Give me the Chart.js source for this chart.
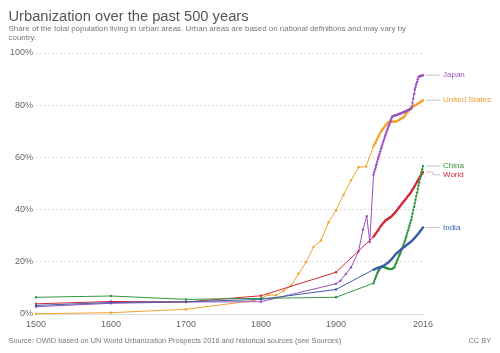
<!DOCTYPE html>
<html><head><meta charset="utf-8">
<script src="https://cdn.jsdelivr.net/npm/chart.js@4/dist/chart.umd.min.js"></script>
<style>html,body{margin:0;padding:0;background:#fff}</style>
</head><body>
<canvas id="c" width="500" height="353"></canvas>
<script>
const xTicks = [1500, 1600, 1700, 1800, 1900, 2016];
const yTicks = [0, 20, 40, 60, 80, 100];

const histYears = [1500, 1600, 1700, 1800, 1900];
const modernYears = [
  1950,1951,1952,1953,1954,1955,1956,1957,1958,1959,
  1960,1961,1962,1963,1964,1965,1966,1967,1968,1969,
  1970,1971,1972,1973,1974,1975,1976,1977,1978,1979,
  1980,1981,1982,1983,1984,1985,1986,1987,1988,1989,
  1990,1991,1992,1993,1994,1995,1996,1997,1998,1999,
  2000,2001,2002,2003,2004,2005,2006,2007,2008,2009,
  2010,2011,2012,2013,2014,2015,2016];

const japanHistYears = [1500,1600,1700,1800,1900,1906,1913,1920,1930,1936,1941,1945];
const japanHist = [2.8,4.1,4.6,4.7,11.6,12.8,15.3,17.8,24.0,32.3,37.5,27.6];
const japanModern = [
  53.4,54.4,55.4,56.4,57.4,58.4,59.4,60.4,61.3,62.3,
  63.3,64.2,65.1,66.0,66.9,67.9,68.7,69.5,70.3,71.1,
  71.9,72.6,73.4,74.2,74.9,75.7,75.8,75.9,76.0,76.1,
  76.2,76.3,76.4,76.5,76.6,76.7,76.8,76.9,77.0,77.2,
  77.3,77.4,77.6,77.7,77.9,78.0,78.1,78.2,78.4,78.5,
  78.6,79.3,80.9,82.6,84.3,86.0,87.0,88.0,88.9,89.9,
  90.8,91.0,91.1,91.2,91.4,91.4,91.5];

const usHistYears = [1500,1600,1700,1790,1800,1810,1820,1830,1840,1850,1860,1870,1880,1890,1900,1910,1920,1930,1940];
const usHist = [0.1,0.5,1.8,5.1,6.1,7.3,7.2,8.8,10.8,15.4,19.8,25.7,28.2,35.1,39.7,45.7,51.2,56.2,56.5];
const usModern = [
  64.2,64.8,65.4,65.9,66.5,67.1,67.7,68.3,68.8,69.4,
  70.0,70.4,70.8,71.1,71.5,71.9,72.2,72.6,72.9,73.3,
  73.6,73.6,73.6,73.7,73.7,73.7,73.7,73.7,73.7,73.7,
  73.7,73.9,74.0,74.2,74.3,74.5,74.7,74.8,75.0,75.2,
  75.3,75.7,76.1,76.5,76.9,77.3,77.6,78.0,78.4,78.7,
  79.1,79.2,79.4,79.6,79.8,80.0,80.1,80.3,80.4,80.6,
  80.8,81.0,81.1,81.3,81.5,81.7,81.9];

const chinaHist = [6.4,6.9,5.6,6.0,6.4];
const chinaModern = [
  11.8,12.6,13.4,14.2,14.9,15.6,16.2,16.8,17.2,17.6,
  18.0,18.2,18.2,18.1,18.0,17.9,17.7,17.6,17.5,17.4,
  17.4,17.3,17.2,17.2,17.2,17.3,17.5,17.7,18.0,18.8,
  19.4,20.1,20.8,21.5,22.2,22.9,23.6,24.3,25.0,25.7,
  26.4,27.3,28.2,29.1,30.0,31.0,32.0,33.0,33.9,34.9,
  35.9,37.2,38.5,39.8,41.1,42.5,43.8,45.2,46.5,47.9,
  49.2,50.5,51.8,53.0,54.3,55.5,56.7];

const worldHist = [3.9,4.8,4.6,7.0,16.0];
const worldModern = [
  29.6,30.0,30.4,30.8,31.2,31.6,32.0,32.5,33.0,33.4,
  33.8,34.1,34.5,34.9,35.2,35.6,35.8,36.0,36.2,36.4,
  36.6,36.8,37.0,37.2,37.5,37.7,38.0,38.3,38.6,39.0,
  39.3,39.7,40.1,40.4,40.8,41.2,41.5,41.9,42.3,42.6,
  43.0,43.4,43.7,44.1,44.4,44.8,45.2,45.6,45.9,46.3,
  46.7,47.2,47.6,48.1,48.6,49.1,49.6,50.1,50.6,51.2,
  51.7,52.1,52.6,53.0,53.5,53.9,54.4];

const indiaHist = [3.3,4.4,4.7,5.6,9.4];
const indiaModern = [
  17.0,17.1,17.2,17.4,17.5,17.6,17.7,17.7,17.8,17.9,
  17.9,18.1,18.3,18.4,18.6,18.8,19.0,19.2,19.4,19.6,
  19.8,20.1,20.4,20.7,21.0,21.3,21.7,22.0,22.4,22.7,
  23.1,23.3,23.6,23.8,24.1,24.3,24.5,24.8,25.0,25.3,
  25.5,25.7,25.9,26.2,26.4,26.6,26.8,27.0,27.3,27.5,
  27.7,28.0,28.3,28.6,28.9,29.2,29.5,29.9,30.2,30.6,
  30.9,31.3,31.6,32.0,32.4,32.8,33.2];

function pts(yh, vh, ym, vm) {
  const out = [];
  yh.forEach((y, i) => out.push({x: y, y: vh[i]}));
  ym.forEach((y, i) => out.push({x: y, y: vm[i]}));
  return out;
}

const FONT = '"Liberation Sans", Arial, sans-serif';
const series = [
  {label: 'India', color: '#3b5ea8', data: pts(histYears, indiaHist, modernYears, indiaModern)},
  {label: 'China', color: '#33963f', data: pts(histYears, chinaHist, modernYears, chinaModern)},
  {label: 'World', color: '#cf2a37', data: pts(histYears, worldHist, modernYears, worldModern)},
  {label: 'Japan', color: '#9b50c0', data: pts(japanHistYears, japanHist, modernYears, japanModern)},
  {label: 'United States', color: '#f2a230', data: pts(usHistYears, usHist, modernYears, usModern)}
];

const labelPlugin = {
  id: 'endLabels',
  afterDatasetsDraw(chart) {
    const ctx = chart.ctx;
    const items = chart.data.datasets.map((ds, i) => {
      const meta = chart.getDatasetMeta(i);
      const p = meta.data[meta.data.length - 1];
      return {name: ds.label, color: ds.borderColor, x: p.x, y: p.y, ly: p.y};
    }).sort((a, b) => a.y - b.y);
    for (let i = 1; i < items.length; i++) {
      if (items[i].ly - items[i - 1].ly < 8.7) items[i].ly = items[i - 1].ly + 8.7;
    }
    ctx.save();
    ctx.font = '8px ' + FONT;
    ctx.textBaseline = 'middle';
    items.forEach(it => {
      ctx.strokeStyle = '#c4c4c4';
      ctx.lineWidth = 1;
      ctx.beginPath();
      ctx.moveTo(it.x + 3, it.y);
      ctx.lineTo(it.x + 10, it.y);
      ctx.lineTo(it.x + 10, it.ly);
      ctx.lineTo(it.x + 17, it.ly);
      ctx.stroke();
      ctx.fillStyle = it.color;
      ctx.fillText(it.name, it.x + 20, it.ly);
    });
    ctx.restore();
  }
};

const textPlugin = {
  id: 'texts',
  afterDraw(chart) {
    const ctx = chart.ctx;
    ctx.save();
    ctx.textBaseline = 'alphabetic';
    ctx.fillStyle = '#555';
    ctx.font = '14.7px ' + FONT;
    ctx.fillText('Urbanization over the past 500 years', 8.5, 20.5);
    ctx.fillStyle = '#777';
    ctx.font = '7.95px ' + FONT;
    ctx.fillText('Share of the total population living in urban areas. Urban areas are based on national definitions and may vary by', 8.5, 31.3);
    ctx.fillText('country.', 8.5, 40.3);
    ctx.font = '7.4px ' + FONT;
    ctx.fillText('Source: OWID based on UN World Urbanization Prospects 2018 and historical sources (see Sources)', 8.5, 343);
    ctx.textAlign = 'right';
    ctx.fillText('CC BY', 491, 343);
    ctx.restore();
  }
};

new Chart(document.getElementById('c'), {
  type: 'line',
  data: {
    datasets: series.map(s => ({
      label: s.label,
      data: s.data,
      borderColor: s.color,
      backgroundColor: s.color,
      borderWidth: 1,
      pointRadius: 1.2,
      pointBorderWidth: 0,
      pointHoverRadius: 0,
      tension: 0,
      clip: false,
      fill: false
    }))
  },
  options: {
    responsive: false,
    animation: false,
    devicePixelRatio: 1,
    layout: {padding: {top: 53, bottom: 20, left: 0, right: 77}},
    plugins: {legend: {display: false}, tooltip: {enabled: false}, title: {display: false}},
    scales: {
      x: {
        type: 'linear', min: 1500, max: 2016,
        afterBuildTicks: s => { s.ticks = xTicks.map(v => ({value: v})); },
        afterFit: s => { s.height = 19; },
        grid: {display: false, drawTicks: false},
        border: {display: true, color: '#ddd', width: 1},
        ticks: {color: '#666', font: {family: FONT, size: 9}, padding: 5, maxRotation: 0, autoSkip: false, callback: v => String(v)}
      },
      y: {
        type: 'linear', min: 0, max: 100,
        afterBuildTicks: s => { s.ticks = yTicks.map(v => ({value: v})); },
        afterFit: s => { s.width = 36; },
        grid: {drawTicks: false, color: c => (c.tick && c.tick.value === 0) ? 'rgba(0,0,0,0)' : '#dcdcdc'},
        border: {display: false, dash: [2, 2]},
        ticks: {color: '#666', font: {family: FONT, size: 9}, padding: 3, callback: v => v + '%'}
      }
    }
  },
  plugins: [labelPlugin, textPlugin]
});
</script>
</body></html>
